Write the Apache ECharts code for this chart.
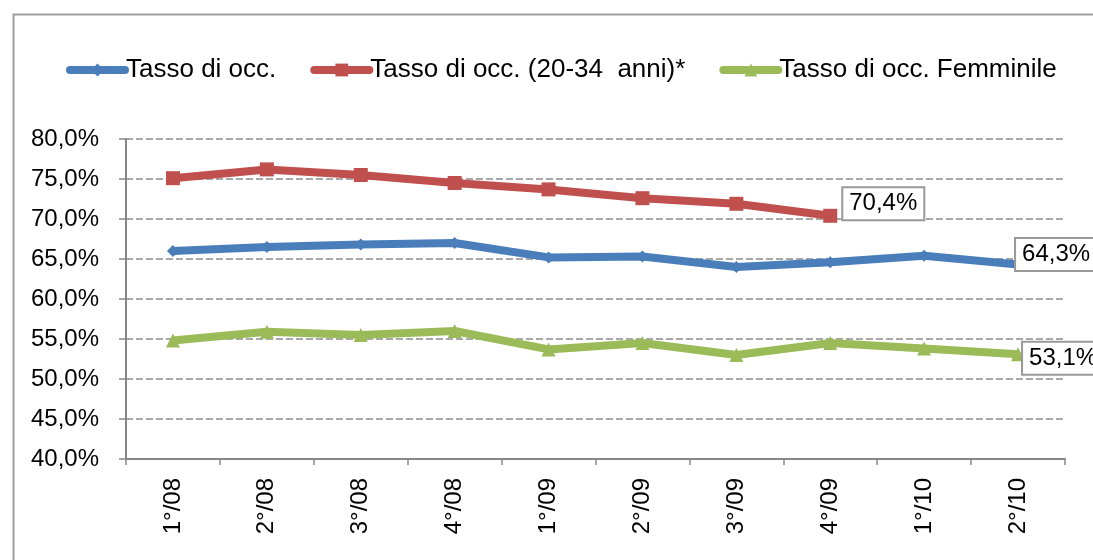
<!DOCTYPE html>
<html>
<head>
<meta charset="utf-8">
<script src="https://cdn.jsdelivr.net/npm/echarts@6/dist/echarts.min.js"></script>
<style>
  html, body { margin: 0; padding: 0; background: #fff; }
  #chart { width: 1093px; height: 560px; }
</style>
</head>
<body>
<div id="chart"></div>
<script>
  const categories = ['1°/08', '2°/08', '3°/08', '4°/08', '1°/09', '2°/09', '3°/09', '4°/09', '1°/10', '2°/10']
  const yTicks = [40, 45, 50, 55, 60, 65, 70, 75, 80]

  const tassoOcc = [66.0, 66.5, 66.8, 67.0, 65.2, 65.3, 64.0, 64.6, 65.4, 64.3]
  const tassoGiovani = [75.1, 76.2, 75.5, 74.5, 73.7, 72.6, 71.9, 70.4, null, null]
  const tassoFemm = [54.8, 55.9, 55.5, 56.0, 53.7, 54.5, 53.0, 54.5, 53.8, 53.1]

  const fmt = v => v.toFixed(1).replace('.', ',') + '%'
  const font = 'Liberation Sans, Arial, sans-serif'

  const boxLabel = offset => ({
    show: true,
    position: 'right',
    distance: 0,
    offset: offset,
    formatter: p => fmt(p.value),
    color: '#000',
    fontSize: 24,
    fontFamily: font,
    backgroundColor: '#fff',
    borderColor: '#999',
    borderWidth: 2,
    padding: [4, 6, 3, 6]
  })

  // label only on one point of each series
  function withLabel(values, idx, offset) {
    return values.map((v, i) => i === idx ? { value: v, label: boxLabel(offset) } : v)
  }

  const chart = echarts.init(document.getElementById('chart'))

  chart.setOption({
    animation: false,
    textStyle: { fontFamily: font },
    graphic: [{
      type: 'rect',
      left: 11,
      top: 12,
      shape: { width: 1200, height: 700 },
      style: { fill: 'none', stroke: '#a0a0a0', lineWidth: 2 },
      silent: true
    }],
    legend: {
      left: 61,
      top: 52,
      itemWidth: 55,
      itemHeight: 16,
      itemGap: 34,
      lineStyle: { width: 8, cap: 'round' },
      textStyle: { fontSize: 26, color: '#000', fontFamily: font, padding: [0, 0, 0, -4] },
      data: ['Tasso di occ.', 'Tasso di occ. (20-34  anni)*', 'Tasso di occ. Femminile']
    },
    grid: {
      left: 126,
      right: 28,
      top: 139,
      bottom: 101
    },
    xAxis: {
      type: 'category',
      data: categories,
      boundaryGap: true,
      axisLine: { lineStyle: { color: '#868686', width: 2 } },
      axisTick: { show: true, length: 6, lineStyle: { color: '#868686', width: 1.5 } },
      axisLabel: {
        rotate: 90,
        margin: 19,
        fontSize: 24,
        color: '#000',
        fontFamily: font
      }
    },
    yAxis: {
      type: 'value',
      min: yTicks[0],
      max: yTicks[yTicks.length - 1],
      interval: 5,
      axisLine: { show: true, lineStyle: { color: '#868686', width: 2 } },
      axisTick: { show: true, length: 7, lineStyle: { color: '#868686', width: 1.5 } },
      axisLabel: {
        margin: 27,
        fontSize: 24,
        color: '#000',
        fontFamily: font,
        formatter: v => fmt(v)
      },
      splitLine: {
        show: true,
        lineStyle: { color: '#8c8c8c', type: [7, 3], width: 1.5 }
      }
    },
    series: [
      {
        name: 'Tasso di occ.',
        type: 'line',
        data: withLabel(tassoOcc, 9, [-8, -10]),
        symbol: 'diamond',
        symbolSize: 12,
        lineStyle: { color: '#4a7ebb', width: 8 },
        itemStyle: { color: '#4a7ebb' },
        z: 3
      },
      {
        name: 'Tasso di occ. (20-34  anni)*',
        type: 'line',
        data: withLabel(tassoGiovani, 7, [6, -12]),
        symbol: 'rect',
        symbolSize: 14,
        lineStyle: { color: '#c0504d', width: 8 },
        itemStyle: { color: '#c0504d' },
        z: 3
      },
      {
        name: 'Tasso di occ. Femminile',
        type: 'line',
        data: withLabel(tassoFemm, 9, [-2, 4]),
        symbol: 'triangle',
        symbolSize: 14,
        lineStyle: { color: '#9bbb59', width: 8 },
        itemStyle: { color: '#9bbb59' },
        z: 3
      }
    ]
  })
</script>
</body>
</html>
